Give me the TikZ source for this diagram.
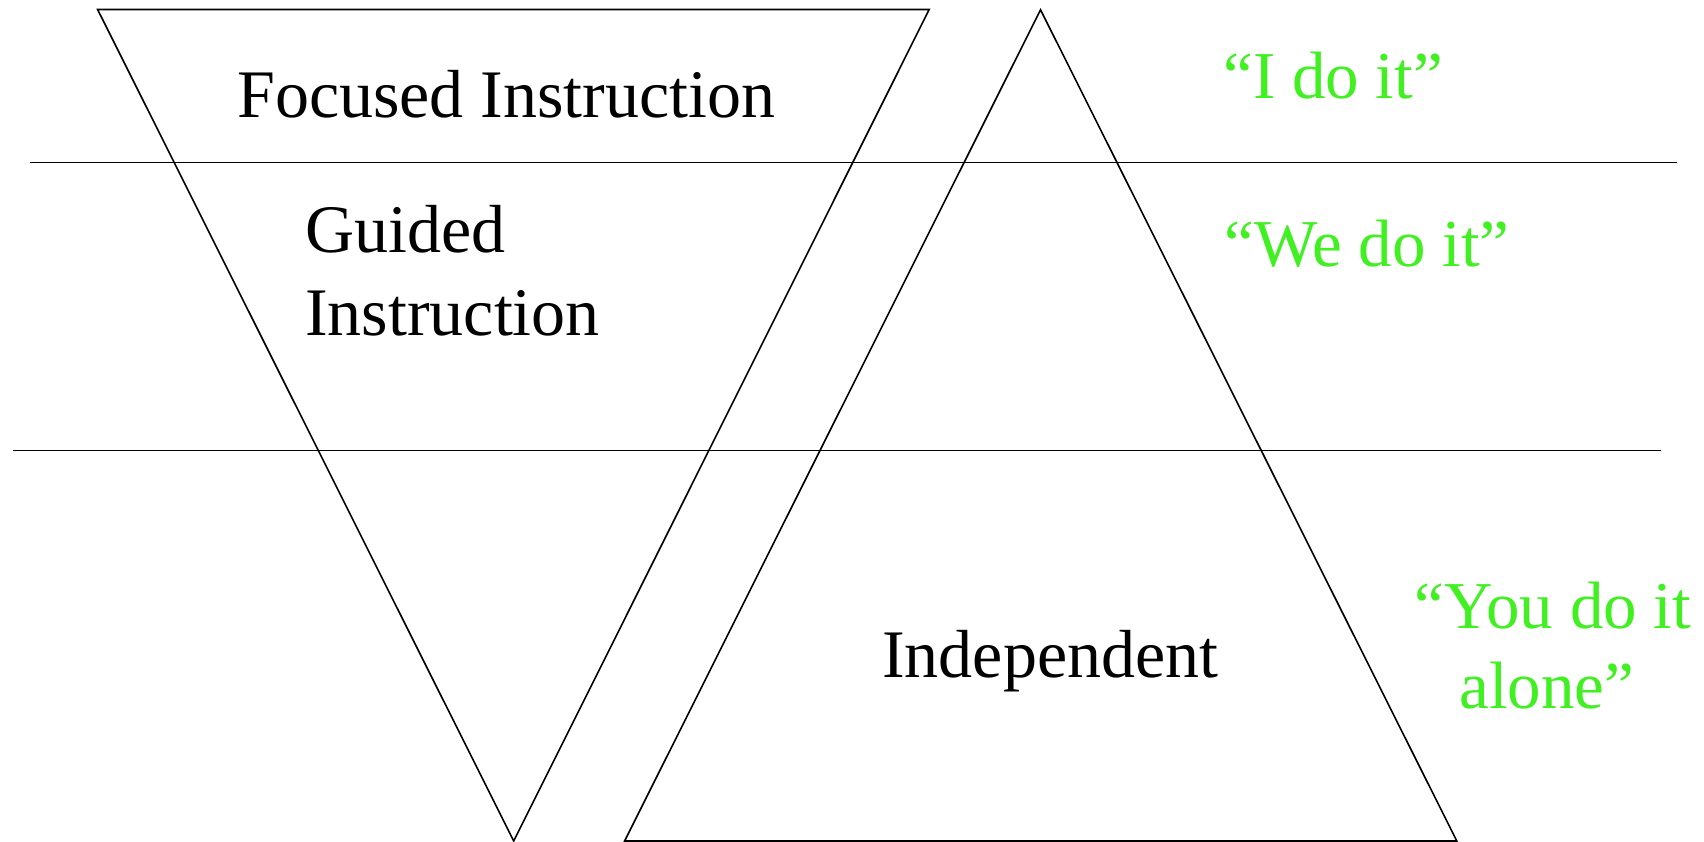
\documentclass[tikz,border=0pt]{standalone}
\usepackage{fontspec}
\setmainfont{Liberation Serif}
\definecolor{quotegreen}{RGB}{64,240,32}
\tikzset{
  shape line/.style={draw=black, line width=1.6pt, line join=miter},
  divider/.style={draw=black, line width=1.8pt},
  label text/.style={inner sep=0pt, anchor=base west, font=\fontsize{68}{82}\selectfont},
  green text/.style={inner sep=0pt, anchor=base, text=quotegreen, font=\fontsize{67}{80}\selectfont}
}
\begin{document}
\begin{tikzpicture}[x=1pt,y=-1pt]
\useasboundingbox (0,0) rectangle (1704,842);
% inverted triangle
\coordinate (itl) at (97.6,9.5);
\coordinate (itr) at (929.2,9.5);
\coordinate (ib) at (513.7,841);
% upright triangle
\coordinate (ut) at (1040.5,9.8);
\coordinate (ubl) at (624.6,841);
\coordinate (ubr) at (1456.8,841);
% dividers
\coordinate (l1a) at (30,162.5);
\coordinate (l1b) at (1677,162.5);
\coordinate (l2a) at (13,450.5);
\coordinate (l2b) at (1661,450.5);
\draw[shape line] (itl) -- (itr) -- (ib) -- cycle;
\draw[shape line] (ut) -- (ubl) -- (ubr) -- cycle;
\draw[divider] (l1a) -- (l1b);
\draw[divider] (l2a) -- (l2b);
% labels
\node[label text] (focused) at (237,118) {Focused Instruction};
\node[label text] (guided1) at (305,253) {Guided};
\node[label text] (guided2) at (305,335) {Instruction};
\node[label text] (indep) at (882,677) {Independent};
\node[green text] (ido) at (1333,98.5) {“I do it”};
\node[green text] (wedo) at (1367,266) {“We do it”};
\node[green text] (youdo1) at (1553,628) {“You do it};
\node[green text] (youdo2) at (1547,708.5) {alone”};
\end{tikzpicture}
\end{document}
